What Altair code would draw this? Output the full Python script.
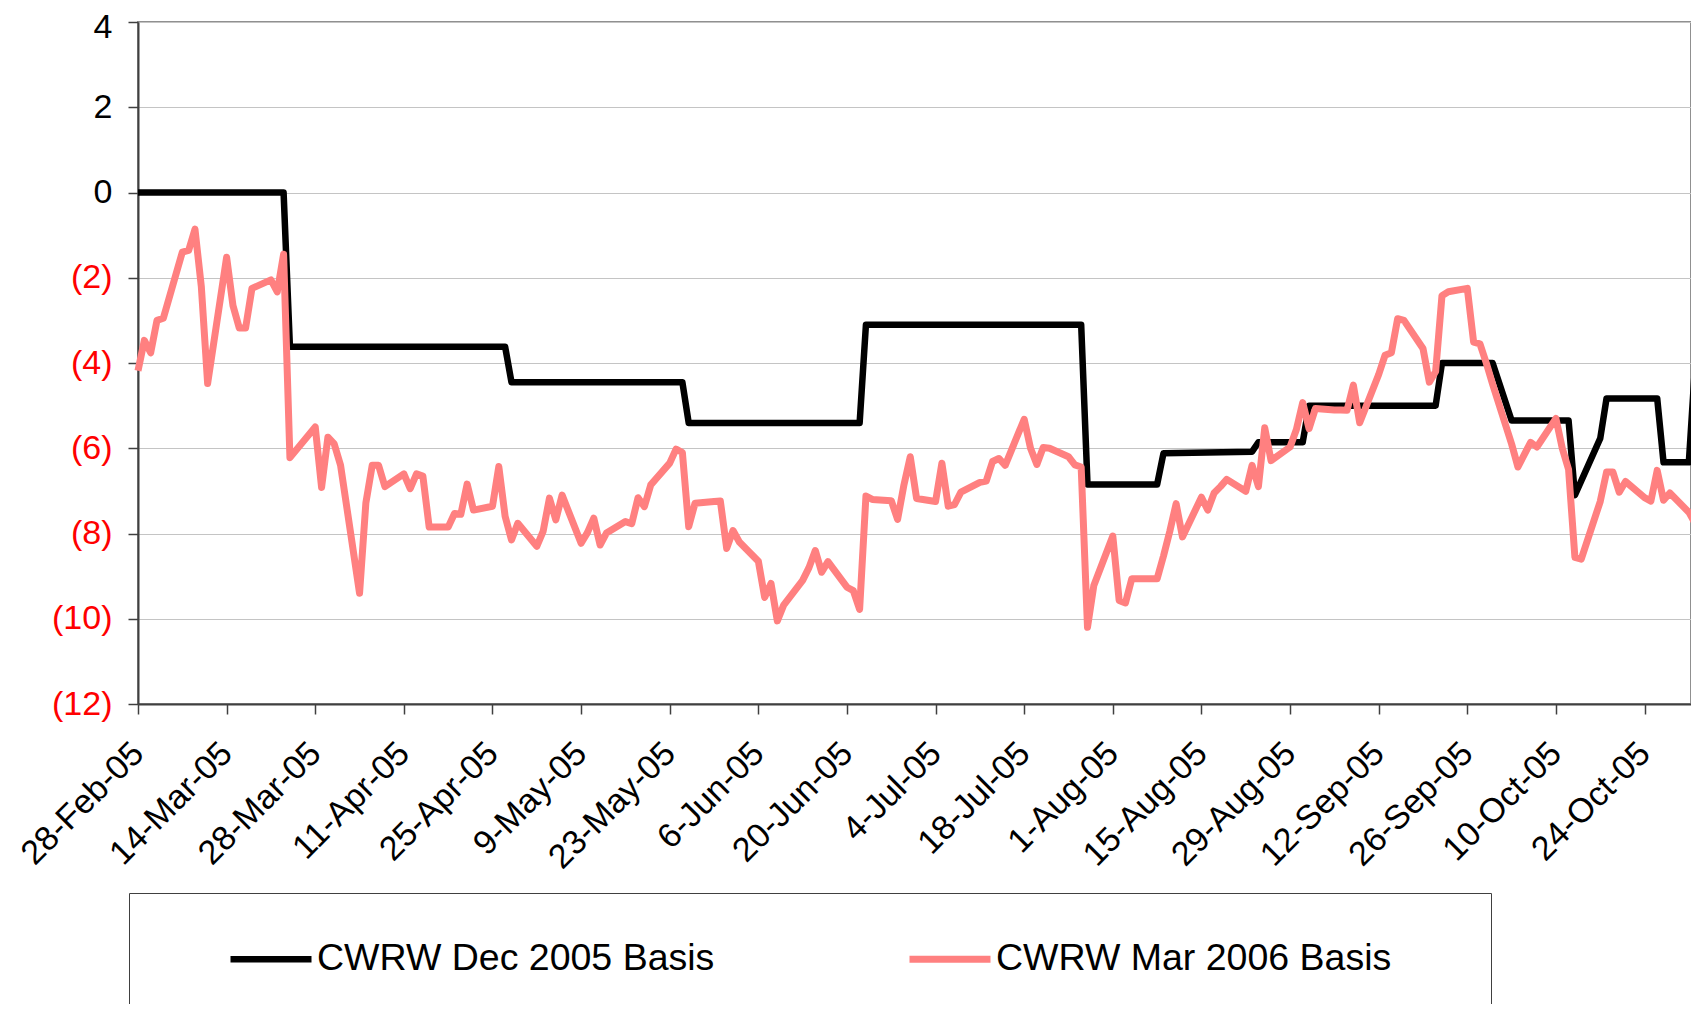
import altair as alt
import pandas as pd
from datetime import date, timedelta

# ---------------- data ----------------
series_names = ["CWRW Dec 2005 Basis", "CWRW Mar 2006 Basis"]
series_colors = ["#000000", "#FF8080"]
series_widths = [6.5, 7]

start_date = "2005-02-28"          # first trading day on the chart
# x positions are given as day offsets (days after 28-Feb-05)
dec_days = [0, 23, 24, 58, 59, 86, 87, 114, 115, 149, 150, 161, 162, 176,
            177, 184, 185, 205, 206, 214, 217, 226, 227, 231, 232, 240,
            241, 245, 246]
dec_values = [0, 0, -3.62, -3.62, -4.45, -4.45, -5.41, -5.41, -3.1, -3.1,
              -6.85, -6.85, -6.12, -6.08, -5.86, -5.86, -5.0, -5.0, -4.0,
              -4.0, -5.35, -5.35, -7.1, -5.77, -4.83, -4.83, -6.33, -6.33,
              -4.0]

mar_days = [0, 1, 2, 3, 4, 7, 8, 9, 10, 11, 14, 15, 16, 17, 18, 21, 22, 23,
            24, 28, 29, 30, 31, 32, 35, 36, 37, 38, 39, 42, 43, 44, 45, 46,
            49, 50, 51, 52, 53, 56, 57, 58, 59, 60, 63, 64, 65, 66, 67, 70,
            71, 72, 73, 74, 77, 78, 79, 80, 81, 84, 85, 86, 87, 88, 91, 92,
            93, 94, 95, 98, 99, 100, 101, 102, 105, 106, 107, 108, 109, 112,
            113, 114, 115, 116, 119, 120, 121, 122, 123, 126, 127, 128, 129,
            130, 133, 134, 135, 136, 137, 140, 141, 142, 143, 144, 147, 148,
            149, 150, 151, 154, 155, 156, 157, 158, 161, 162, 163, 164, 165,
            168, 169, 170, 171, 172, 175, 176, 177, 178, 179, 182, 183, 184,
            185, 186, 189, 190, 191, 192, 193, 196, 197, 198, 199, 200, 203,
            204, 205, 206, 207, 210, 211, 212, 213, 214, 217, 218, 219, 220,
            221, 224, 225, 226, 227, 228, 231, 232, 233, 234, 235, 238, 239,
            240, 241, 242, 245, 246]
mar_values = [-4.18, -3.47, -3.76, -3.0, -2.95, -1.4, -1.36, -0.86, -2.2,
              -4.48, -1.52, -2.65, -3.18, -3.18, -2.25, -2.05, -2.33, -1.45,
              -6.22, -5.5, -6.92, -5.74, -5.9, -6.4, -9.4, -7.28, -6.4, -6.4,
              -6.9, -6.6, -6.95, -6.6, -6.65, -7.85, -7.85, -7.53, -7.55,
              -6.84, -7.45, -7.36, -6.43, -7.6, -8.15, -7.76, -8.3, -7.95,
              -7.17, -7.68, -7.1, -8.23, -7.98, -7.64, -8.27, -7.99, -7.72,
              -7.77, -7.16, -7.37, -6.86, -6.35, -6.02, -6.1, -7.84, -7.29,
              -7.25, -7.24, -8.35, -7.93, -8.2, -8.65, -9.5, -9.17, -10.05,
              -9.68, -9.1, -8.8, -8.4, -8.91, -8.66, -9.26, -9.34, -9.78,
              -7.12, -7.2, -7.23, -7.67, -6.86, -6.2, -7.18, -7.25, -6.35,
              -7.36, -7.32, -7.03, -6.8, -6.77, -6.31, -6.24, -6.4, -5.32,
              -6.0, -6.38, -5.98, -6.0, -6.2, -6.39, -6.44, -10.2, -9.22,
              -8.06, -9.57, -9.63, -9.06, -9.06, -9.06, -8.53, -7.95, -7.3,
              -8.08, -7.15, -7.45, -7.05, -6.9, -6.73, -7.01, -6.4, -6.9,
              -5.52, -6.29, -5.97, -5.56, -4.93, -5.54, -5.07, -5.1, -5.1,
              -5.11, -4.52, -5.4, -4.27, -3.82, -3.76, -2.96, -3.0, -3.66,
              -4.45, -4.2, -2.42, -2.33, -2.25, -3.51, -3.55, -4.0, -4.5,
              -5.9, -6.44, -6.15, -5.86, -5.97, -5.3, -6.0, -6.5, -8.56,
              -8.6, -7.25, -6.56, -6.56, -7.03, -6.78, -7.16, -7.24, -6.52,
              -7.22, -7.05, -7.5, -7.77]

x_tick_dates = ["2005-02-28", "2005-03-14", "2005-03-28", "2005-04-11",
                "2005-04-25", "2005-05-09", "2005-05-23", "2005-06-06",
                "2005-06-20", "2005-07-04", "2005-07-18", "2005-08-01",
                "2005-08-15", "2005-08-29", "2005-09-12", "2005-09-26",
                "2005-10-10", "2005-10-24"]
y_ticks = [-12, -10, -8, -6, -4, -2, 0, 2, 4]

# ---------------- build table ----------------
assert len(dec_days) == len(dec_values)
assert len(mar_days) == len(mar_values)
base = date.fromisoformat(start_date)


def to_iso(d):
    return (base + timedelta(days=d)).isoformat() + "T00:00:00"


rows = []
for d, v in zip(dec_days, dec_values):
    rows.append({"date": to_iso(d), "value": v, "series": series_names[0]})
for d, v in zip(mar_days, mar_values):
    rows.append({"date": to_iso(d), "value": v, "series": series_names[1]})
df = pd.DataFrame(rows)


def dt(s, hours=0, minutes=0):
    y, m, d = (int(p) for p in s.split("-"))
    return alt.DateTime(year=y, month=m, date=d, hours=hours, minutes=minutes)


x_domain = [dt("2005-02-28"), dt("2005-10-31", hours=8, minutes=10)]

FONT = "Liberation Sans"
AXIS_GREY = "#404040"
LEGEND_SHIFT = 76   # room between legend frame and first symbol

chart = alt.Chart(df).mark_line(
    strokeJoin="round", strokeCap="butt"
).encode(
    x=alt.X(
        "date:T",
        title=None,
        scale=alt.Scale(domain=x_domain),
        axis=alt.Axis(
            values=[dt(s) for s in x_tick_dates],
            format="%-d-%b-%y",
            labelAngle=-45,
            labelAlign="right",
            labelBaseline="middle",
            labelPadding=34,
            labelFont=FONT,
            labelFontSize=34,
            labelColor="#000000",
            labelFlush=False,
            labelOverlap=False,
            tickSize=10,
            tickColor=AXIS_GREY,
            tickWidth=1.5,
            domainColor=AXIS_GREY,
            domainWidth=2,
            grid=False,
        ),
    ),
    y=alt.Y(
        "value:Q",
        title=None,
        scale=alt.Scale(domain=[-12, 4], nice=False, zero=False),
        axis=alt.Axis(
            values=y_ticks,
            labelExpr="datum.value < 0 ? '(' + abs(datum.value) + ')' : '' + datum.value",
            labelColor={"condition": {"test": "datum.value < 0", "value": "#FF0000"},
                        "value": "#000000"},
            labelOffset={"condition": {"test": "datum.value >= 4", "value": 5},
                         "value": 0},
            labelFont=FONT,
            labelFontSize=34,
            labelPadding=16,
            tickSize=10,
            tickColor=AXIS_GREY,
            tickWidth=1.5,
            domainColor=AXIS_GREY,
            domainWidth=2,
            grid=True,
            gridColor="#C4C4C4",
            gridWidth=1,
        ),
    ),
    strokeWidth=alt.StrokeWidth(
        "series:N",
        scale=alt.Scale(domain=series_names, range=series_widths),
        legend=None,
    ),
    color=alt.Color(
        "series:N",
        scale=alt.Scale(domain=series_names, range=series_colors),
        legend=alt.Legend(
            title=" ",
            titleOrient="right",
            titleFontSize=220,
            titlePadding=78,
            orient="none",
            legendX=-9,
            legendY=871,
            direction="horizontal",
            symbolType="stroke",
            symbolSize=6561,
            symbolStrokeWidth=6.5,
            symbolOffset=LEGEND_SHIFT,
            labelFont=FONT,
            labelFontSize=37.5,
            labelColor="#000000",
            labelOffset=2,
            labelLimit=1000,
            columnPadding=115,
            padding=22,
            strokeColor="#404040",
            fillColor="#FFFFFF",
        ),
    ),
).properties(
    width=1553,
    height=682,
    autosize=alt.AutoSizeParams(type="none"),
    padding={"left": 130, "top": 14, "right": 0, "bottom": 300},
    background="#FFFFFF",
).configure_view(
    stroke="#909090",
    strokeWidth=2,
)

chart.save("out.html", embed_options={"renderer": "svg", "actions": False})
